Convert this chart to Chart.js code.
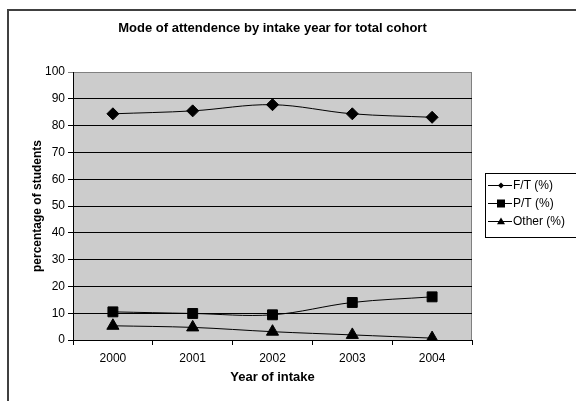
<!DOCTYPE html>
<html>
<head>
<meta charset="utf-8">
<script src="https://cdn.jsdelivr.net/npm/chart.js@4.4.0/dist/chart.umd.min.js"></script>
<style>
  html, body { margin: 0; padding: 0; background: #fff; }
  #wrap { width: 576px; height: 401px; position: relative; }
</style>
</head>
<body>
<div id="wrap"><canvas id="chart-1"></canvas></div>
<script>
// data
var years = ["2000", "2001", "2002", "2003", "2004"];
var fullTime = [84.4, 85.5, 87.8, 84.4, 83.1];
var partTime = [10.5, 9.9, 9.4, 14.0, 16.1];
var other = [5.3, 4.7, 3.1, 1.9, 0.7];
var seriesNames = ["F/T (%)", "P/T (%)", "Other (%)"];

var chartTitle = "Mode of attendence by intake year for total cohort";
var font = "'Liberation Sans', Arial, sans-serif";
Chart.defaults.font.family = font;
Chart.defaults.color = "#000";

// small marker drawer for the legend
function marker(c, style, x, y, r) {
  c.beginPath();
  if (style === "rectRot") {
    c.moveTo(x, y - r); c.lineTo(x + r, y); c.lineTo(x, y + r); c.lineTo(x - r, y);
  } else if (style === "rect") {
    c.rect(x - r, y - r, 2 * r, 2 * r);
  } else {
    c.moveTo(x, y - r); c.lineTo(x + r, y + r * 0.7); c.lineTo(x - r, y + r * 0.7);
  }
  c.closePath();
  c.fill();
}

var frame = {
  id: "frame",
  beforeDraw: function (chart) {
    var c = chart.ctx, a = chart.chartArea;
    c.save();
    c.fillStyle = "#fff";
    c.fillRect(0, 0, chart.width, chart.height);
    // outer border
    c.strokeStyle = "#404040";
    c.lineWidth = 2;
    c.strokeRect(8, 10, chart.width + 10, chart.height + 10);
    // plot area
    c.fillStyle = "#cccccc";
    c.fillRect(a.left, a.top, a.right - a.left, a.bottom - a.top);
    c.strokeStyle = "#808080";
    c.lineWidth = 1;
    c.beginPath();
    c.moveTo(a.left, a.top + 0.5);
    c.lineTo(a.right - 0.5, a.top + 0.5);
    c.lineTo(a.right - 0.5, a.bottom);
    c.stroke();
    c.restore();
  },
  afterDraw: function (chart) {
    var c = chart.ctx, a = chart.chartArea;
    c.save();
    // title
    c.fillStyle = "#000";
    c.font = "bold 13px " + font;
    c.textAlign = "center";
    c.textBaseline = "middle";
    c.fillText(chartTitle, (a.left + a.right) / 2, 28);
    // legend (box runs off the right edge)
    c.strokeStyle = "#000";
    c.lineWidth = 1;
    c.strokeRect(485.5, 173.5, 100, 64);
    c.font = "12px " + font;
    c.textAlign = "left";
    var sizes = [3, 4, 4];
    chart.data.datasets.forEach(function (ds, i) {
      var y = 185 + i * 18;
      c.beginPath();
      c.moveTo(488, y + 0.5);
      c.lineTo(512, y + 0.5);
      c.stroke();
      marker(c, ds.pointStyle, 501, y + 0.5, sizes[i]);
      c.fillText(ds.label, 513, y + 1);
    });
    c.restore();
  }
};

function series(label, values, style, radius) {
  return {
    label: label,
    data: values,
    borderColor: "#000",
    backgroundColor: "#000",
    borderWidth: 1,
    pointStyle: style,
    pointRadius: radius,
    pointBackgroundColor: "#000",
    pointBorderColor: "#000",
    tension: 0.35,
    fill: false
  };
}

new Chart(document.getElementById("chart-1").getContext("2d"), {
  type: "line",
  data: {
    labels: years,
    datasets: [
      series(seriesNames[0], fullTime, "rectRot", 6),
      series(seriesNames[1], partTime, "rect", 7),
      series(seriesNames[2], other, "triangle", 7)
    ]
  },
  options: {
    responsive: true,
    maintainAspectRatio: false,
    animation: false,
    layout: { padding: { left: 26, top: 72, right: 104, bottom: 12 } },
    plugins: {
      legend: { display: false },
      title: { display: false },
      tooltip: { enabled: false }
    },
    scales: {
      x: {
        offset: true,
        afterFit: function (s) { s.height = 49; },
        grid: { offset: true, drawOnChartArea: false, color: "#000", tickLength: 5 },
        border: { color: "#000", width: 1 },
        ticks: { padding: 6, font: { size: 12 }, maxRotation: 0 },
        title: { display: true, text: "Year of intake", font: { size: 13, weight: "bold" } }
      },
      y: {
        min: 0,
        max: 100,
        afterFit: function (s) { s.width = 47; },
        grid: {
          color: function (ctx) { return ctx.tick && ctx.tick.value === 100 ? "#808080" : "#000"; },
          tickLength: 5
        },
        border: { color: "#000", width: 1 },
        ticks: { stepSize: 10, padding: 3, font: { size: 12 } },
        title: { display: true, text: "percentage of students", font: { size: 12, weight: "bold" } }
      }
    }
  },
  plugins: [frame]
});
</script>
</body>
</html>
